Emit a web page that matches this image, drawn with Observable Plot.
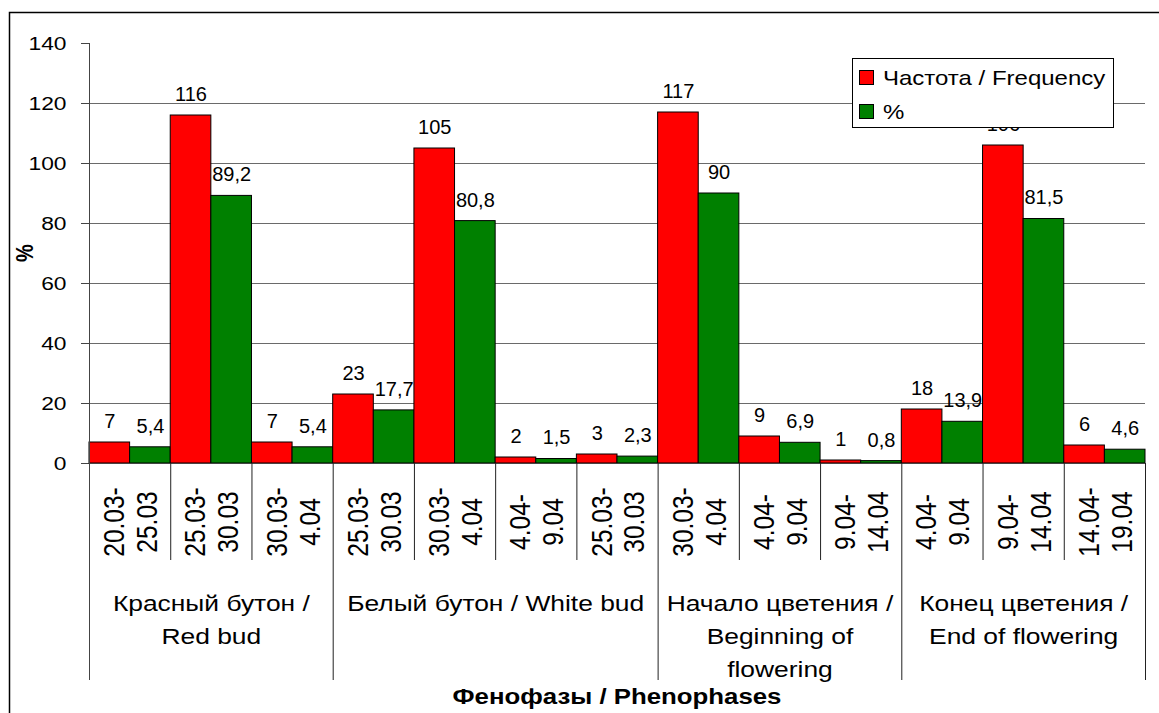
<!DOCTYPE html>
<html><head><meta charset="utf-8">
<script src="https://cdn.jsdelivr.net/npm/d3@7"></script>
<script src="https://cdn.jsdelivr.net/npm/@observablehq/plot@0.6"></script>
<style>html,body{margin:0;padding:0;background:#fff;overflow:hidden}</style>
</head><body><div id="chart"></div>
<script>
const categories = ["20.03-\n25.03", "25.03-\n30.03", "30.03-\n4.04", "25.03-\n30.03", "30.03-\n4.04", "4.04-\n9.04", "25.03-\n30.03", "30.03-\n4.04", "4.04-\n9.04", "9.04-\n14.04", "4.04-\n9.04", "9.04-\n14.04", "14.04-\n19.04"];
const frequency = [7, 116, 7, 23, 105, 2, 3, 117, 9, 1, 18, 106, 6];
const percent = [5.4, 89.2, 5.4, 17.7, 80.8, 1.5, 2.3, 90, 6.9, 0.8, 13.9, 81.5, 4.6];
const phases = ["Красный бутон /\nRed bud", "Белый бутон / White bud", "Начало цветения /\nBeginning of\nflowering", "Конец цветения /\nEnd of flowering"];
const phaseSizes = [3, 4, 3, 3];
const seriesNames = ["Частота / Frequency", "%"];
const seriesColors = ["#ff0000", "#008000"];
const yTicks = [0, 20, 40, 60, 80, 100, 120, 140];
const yTitle = "%";
const xTitle = "Фенофазы / Phenophases";

const S = 1.2; // horizontal text stretch of the original picture
const rows = categories.flatMap((c, i) => [
  {i, s: 0, v: frequency[i]},
  {i, s: 1, v: percent[i]}
]);
const fmt = v => String(v).replace(".", ",");
const nCat = categories.length;
const groupEdges = phaseSizes.reduce((acc, n) => (acc.push(acc[acc.length - 1] + n), acc), [0]);
const catEdges = d3.range(1, nCat).filter(k => !groupEdges.includes(k));
const phaseRows = phases.map((p, j) => ({p, c: (groupEdges[j] + groupEdges[j + 1]) / 2}));

const svg = Plot.plot({
  width: 1159, height: 713,
  marginLeft: 89, marginRight: 14, marginTop: 43, marginBottom: 250,
  x: {domain: [0, nCat], axis: null},
  y: {domain: [0, 140], axis: null},
  color: {domain: seriesNames, range: seriesColors},
  style: {fontFamily: "'Liberation Sans', Arial, sans-serif", fontSize: "20px", background: "#fff", color: "#000"},
  marks: [
    Plot.ruleY(yTicks.filter(t => t > 0 && t < 140), {y: d => d, stroke: "#6a6a6a"}),
    Plot.ruleY(yTicks, {y: d => d, x1: 0, x2: 0, insetLeft: -8, stroke: "#444"}),
    Plot.rectY(rows, {x1: d => d.i + d.s / 2, x2: d => d.i + d.s / 2 + 0.5, y1: 0, y2: "v", fill: d => seriesNames[d.s], stroke: "#000", strokeWidth: 1}),
    Plot.ruleY([0], {y: d => d, stroke: "#444"}),
    Plot.ruleX([0], {x: d => d, y1: 140, y2: 0, insetBottom: -217, stroke: "#444"}),
    Plot.ruleX(groupEdges.slice(1), {x: d => d, y1: 0, y2: 0, insetBottom: -217, stroke: "#222"}),
    Plot.ruleX(catEdges, {x: d => d, y1: 0, y2: 0, insetBottom: -97, stroke: "#222"}),
    Plot.text(rows, {x: d => d.i + d.s / 2 + 0.25, y: "v", text: d => fmt(d.v), dy: -21, fontSize: 20, lineAnchor: "middle", ariaDescription: "plain"}),
    Plot.text(yTicks, {x: 0, y: d => d, text: d => String(d), textAnchor: "end", dx: -23, fontSize: 19, lineAnchor: "middle", ariaDescription: "stretch"}),
    Plot.text(categories, {x: (d, i) => i + 0.5, y: 0, text: d => d, rotate: -90, dy: 58.5, fontSize: 24.5, lineHeight: 1.12, lineAnchor: "middle", textAnchor: "middle", ariaDescription: "stretch"}),
    Plot.text(phaseRows, {x: "c", y: 0, text: "p", lineAnchor: "top", dy: 124, fontSize: 22, lineHeight: 1.5, textAnchor: "middle", ariaDescription: "stretch"})
  ]
});

function stretch(t) {
  const tr = t.getAttribute("transform") || "";
  const m = tr.match(/^\s*(translate\([^)]*\))(.*)$/);
  if (m) {
    t.setAttribute("transform", `${m[1]} scale(${S},1)${m[2]}`);
  } else {
    const x = +t.getAttribute("x") || 0, y = +t.getAttribute("y") || 0;
    t.removeAttribute("x"); t.removeAttribute("y");
    t.setAttribute("transform", `translate(${x},${y}) scale(${S},1) ${tr}`);
  }
}
let stretched = svg.querySelectorAll('[aria-description="stretch"] text');
if (stretched.length === 0) {
  stretched = [...svg.querySelectorAll("text")].filter(t => {
    const g = t.closest("g[font-size]");
    return !(g && g.getAttribute("font-size") === "20");
  });
}
stretched.forEach(stretch);

const sel = d3.select(svg);
// axis titles
sel.append("text")
  .attr("transform", `translate(25,253) scale(${S},1) rotate(-90)`)
  .attr("text-anchor", "middle").attr("dy", "0.35em")
  .attr("font-size", 20).attr("font-weight", "bold").text(yTitle);
sel.append("text")
  .attr("transform", `translate(617,696) scale(${S},1)`)
  .attr("text-anchor", "middle").attr("dy", "0.35em")
  .attr("font-size", 21.5).attr("font-weight", "bold").text(xTitle);
// legend
const lg = sel.append("g").attr("text-anchor", "start");
lg.append("rect").attr("x", 852.5).attr("y", 58.5).attr("width", 261).attr("height", 69)
  .attr("fill", "#fff").attr("stroke", "#000");
seriesNames.forEach((name, k) => {
  const cy = [78, 112][k];
  lg.append("rect").attr("x", 859.5).attr("y", cy - 7.5).attr("width", 14).attr("height", 14)
    .attr("fill", seriesColors[k]).attr("stroke", "#000");
  lg.append("text").attr("transform", `translate(883,${cy}) scale(${S},1)`)
    .attr("text-anchor", "start")
    .attr("dy", "0.35em").attr("font-size", 20).text(name);
});
// outer chart border
sel.append("rect").attr("x", 9.5).attr("y", 12.5).attr("width", 1300).attr("height", 900)
  .attr("fill", "none").attr("stroke", "#000").attr("stroke-width", 1.5);

document.getElementById("chart").appendChild(svg);
</script>
</body></html>
